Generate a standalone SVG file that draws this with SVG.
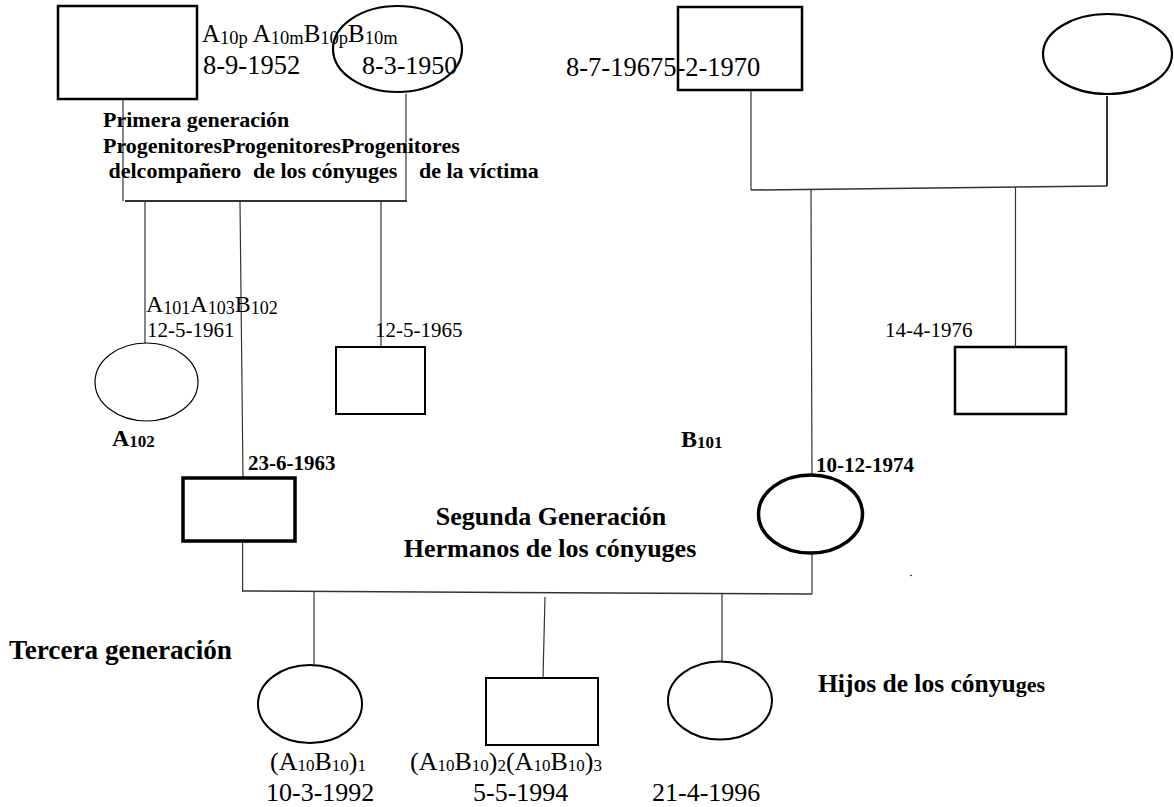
<svg xmlns="http://www.w3.org/2000/svg" width="1174" height="807" viewBox="0 0 1174 807">
<style>
text{font-family:"Liberation Serif","Times New Roman",serif;fill:#000}
.b{font-weight:bold}
.n{fill:#fff;stroke:#000}
.c line{stroke:#333;stroke-width:1.2}
</style>
<rect x="0" y="0" width="1174" height="807" fill="#fff"/>
<g class="c" id="connectors">
<line x1="123" y1="100" x2="123" y2="201"/>
<line x1="406" y1="94" x2="406" y2="201"/>
<line x1="125" y1="201" x2="407" y2="201" style="stroke-width:1.8"/>
<line x1="145" y1="202" x2="145" y2="347"/>
<line x1="240" y1="202" x2="243" y2="478"/>
<line x1="381" y1="202" x2="381" y2="347"/>
<line x1="751" y1="90" x2="751" y2="190"/>
<line x1="751" y1="190" x2="1107" y2="186" style="stroke-width:1.5"/>
<line x1="1107" y1="96" x2="1107" y2="186" style="stroke-width:2"/>
<line x1="811" y1="190" x2="812" y2="478"/>
<line x1="1015.5" y1="187" x2="1015.5" y2="347"/>
<line x1="242.6" y1="541" x2="242.6" y2="591"/>
<line x1="242" y1="591" x2="812" y2="594" style="stroke-width:1.5"/>
<line x1="812" y1="553" x2="812" y2="594"/>
<line x1="314" y1="592" x2="314" y2="664"/>
<line x1="545" y1="597" x2="543" y2="678"/>
<line x1="722" y1="593" x2="722" y2="662"/>
</g>
<g id="n-padreA">
<rect class="n" x="58" y="6" width="139" height="93" stroke-width="2.5"/>
</g>
<g id="n-madreA">
<ellipse cx="397.5" cy="49" rx="64.5" ry="43" stroke="#000" stroke-width="2.2" fill="none"/>
</g>
<g id="lbl-top">
<text x="202" y="42" font-size="25">A<tspan font-size="18.5" dy="2">10p</tspan><tspan dy="-2"> A</tspan><tspan font-size="18.5" dy="2">10m</tspan><tspan dy="-2">B</tspan><tspan font-size="18.5" dy="2">10p</tspan><tspan dy="-2">B</tspan><tspan font-size="18.5" dy="2">10m</tspan></text>
<text x="203" y="74" font-size="26.5">8-9-1952</text>
<text x="362" y="74" font-size="26">8-3-1950</text>
<text class="b" x="103" y="127" font-size="22">Primera generación</text>
<text class="b" x="103" y="153" font-size="22">ProgenitoresProgenitoresProgenitores</text>
<text class="b" y="178" font-size="22"><tspan x="108.5">delcompañero</tspan><tspan x="253">de los cónyuges</tspan><tspan x="419">de la víctima</tspan></text>
</g>
<g id="n-padreB">
<rect class="n" x="678" y="7" width="124" height="83" stroke-width="2.5"/>
<text x="566" y="76" font-size="26.5">8-7-19675-2-1970</text>
</g>
<g id="n-madreB">
<ellipse class="n" cx="1107.5" cy="54" rx="64.5" ry="40" stroke-width="2.2"/>
</g>
<g id="n-A102">
<ellipse class="n" cx="146.5" cy="382" rx="51.5" ry="39" stroke-width="1.2"/>
<text x="146" y="312" font-size="24">A<tspan font-size="18" dy="2">101</tspan><tspan dy="-2">A</tspan><tspan font-size="18" dy="2">103</tspan><tspan dy="-2">B</tspan><tspan font-size="18" dy="2">102</tspan></text>
<text x="147" y="337" font-size="21">12-5-1961</text>
<text class="b" x="112" y="446" font-size="24">A<tspan font-size="17" dy="1">102</tspan></text>
</g>
<g id="n-A103">
<rect class="n" x="336" y="347" width="89" height="67" stroke-width="2"/>
<text x="375" y="337" font-size="21">12-5-1965</text>
</g>
<g id="n-A101">
<rect class="n" x="183" y="478" width="112" height="63" stroke-width="3.5"/>
<text class="b" x="248" y="470" font-size="21">23-6-1963</text>
</g>
<g id="n-B102">
<rect class="n" x="955" y="347" width="111" height="67" stroke-width="2.5"/>
<text x="885" y="337" font-size="21">14-4-1976</text>
</g>
<g id="n-B101">
<ellipse class="n" cx="810.5" cy="514" rx="52" ry="39" stroke-width="3.5"/>
<text class="b" x="816" y="472" font-size="21">10-12-1974</text>
<text class="b" x="681" y="447" font-size="24">B<tspan font-size="17" dy="1">101</tspan></text>
</g>
<g id="lbl-mid">
<text class="b" x="551" y="525" font-size="26" text-anchor="middle">Segunda Generación</text>
<text class="b" x="550" y="557" font-size="26" text-anchor="middle">Hermanos de los cónyuges</text>
<circle cx="911" cy="575.5" r="0.8" fill="#000"/>
<text class="b" x="9" y="659" font-size="26.5" textLength="223" lengthAdjust="spacingAndGlyphs">Tercera generación</text>
<text class="b" x="818" y="692" font-size="25.5">Hijos de los cónyu<tspan font-size="22">ges</tspan></text>
</g>
<g id="n-hijo1">
<ellipse class="n" cx="310" cy="704" rx="52" ry="39" stroke-width="2"/>
<text x="270" y="770" font-size="26">(A<tspan font-size="17" dy="1">10</tspan><tspan dy="-1">B</tspan><tspan font-size="17" dy="1">10</tspan><tspan dy="-1">)</tspan><tspan font-size="17" dy="1">1</tspan></text>
<text x="266" y="801" font-size="26">10-3-1992</text>
</g>
<g id="n-hijo2">
<rect class="n" x="486" y="678" width="112" height="67" stroke-width="2"/>
<text x="410" y="770" font-size="26">(A<tspan font-size="17" dy="1">10</tspan><tspan dy="-1">B</tspan><tspan font-size="17" dy="1">10</tspan><tspan dy="-1">)</tspan><tspan font-size="17" dy="1">2</tspan><tspan dy="-1">(A</tspan><tspan font-size="17" dy="1">10</tspan><tspan dy="-1">B</tspan><tspan font-size="17" dy="1">10</tspan><tspan dy="-1">)</tspan><tspan font-size="17" dy="1">3</tspan></text>
<text x="473" y="801" font-size="26">5-5-1994</text>
</g>
<g id="n-hijo3">
<ellipse class="n" cx="720" cy="700.5" rx="52" ry="39" stroke-width="2"/>
<text x="652" y="801" font-size="26">21-4-1996</text>
</g>
</svg>
